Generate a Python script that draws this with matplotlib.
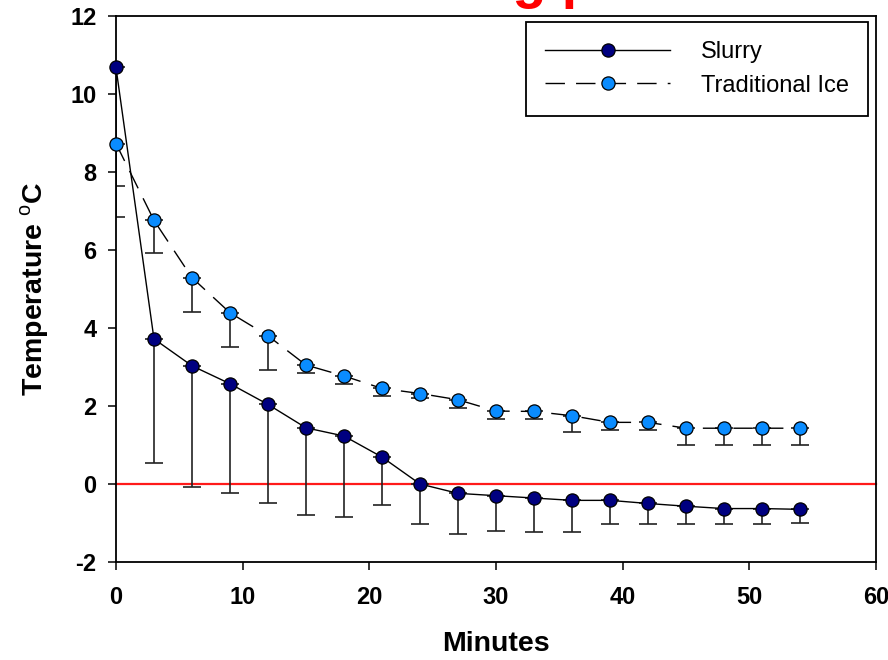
"""Slurry vs traditional ice cooling curves with lower error bars."""

import matplotlib

matplotlib.use("Agg")

import matplotlib.pyplot as plt

plt.rcParams["font.family"] = ["Liberation Sans", "DejaVu Sans"]
plt.rcParams["mathtext.fontset"] = "custom"
plt.rcParams["mathtext.bf"] = "Liberation Sans:bold"
plt.rcParams["mathtext.rm"] = "Liberation Sans"
plt.rcParams["axes.unicode_minus"] = False

minutes = [0, 3, 6, 9, 12, 15, 18, 21, 24, 27, 30, 33, 36, 39, 42, 45, 48, 51, 54]

slurry = [10.68, 3.72, 3.03, 2.57, 2.04, 1.44, 1.23, 0.69, 0.0, -0.24, -0.3, -0.36,
          -0.42, -0.42, -0.5, -0.57, -0.63, -0.63, -0.65]
slurry_low = [7.65, 0.53, -0.08, -0.22, -0.5, -0.79, -0.85, -0.55, -1.03, -1.27, -1.21,
              -1.22, -1.22, -1.02, -1.02, -1.03, -1.03, -1.03, -1.0]

ice = [8.73, 6.76, 5.29, 4.39, 3.8, 3.05, 2.77, 2.45, 2.32, 2.16, 1.87, 1.86,
       1.75, 1.58, 1.58, 1.43, 1.43, 1.43, 1.43]
ice_low = [6.85, 5.92, 4.42, 3.51, 2.93, 2.84, 2.56, 2.26, 2.2, 1.96, 1.67, 1.67,
           1.34, 1.38, 1.38, 1.0, 1.0, 1.0, 1.0]

series_names = ["Slurry", "Traditional Ice"]
title = "Cooling profile"

SLURRY_COLOR = "#000080"
ICE_COLOR = "#0a8cff"


def lower_err(values, lows):
    return [[v - lo for v, lo in zip(values, lows)], [0] * len(values)]


fig = plt.figure(figsize=(8.88, 6.6), dpi=100)
ax = fig.add_axes([0.1306, 0.1485, 0.8559, 0.8273])

ax.axhline(0, color="#ff1a1a", lw=1.6, zorder=1, clip_on=False)

ax.errorbar(minutes, ice, yerr=lower_err(ice, ice_low), fmt="none",
            ecolor="#222222", elinewidth=1.2, capsize=6.5, capthick=1.2, zorder=2)
ax.errorbar(minutes, slurry, yerr=lower_err(slurry, slurry_low), fmt="none",
            ecolor="#222222", elinewidth=1.2, capsize=6.5, capthick=1.2, zorder=2)

ax.plot(minutes, slurry, color="black", lw=1.0, marker="o", markersize=9.5,
        markerfacecolor=SLURRY_COLOR, markeredgecolor="black", markeredgewidth=0.9,
        label=series_names[0], zorder=4, clip_on=False)
ax.plot(minutes, ice, color="black", lw=1.0, dashes=(14, 8), marker="o", markersize=9.5,
        markerfacecolor=ICE_COLOR, markeredgecolor="black", markeredgewidth=0.9,
        label=series_names[1], zorder=3, clip_on=False)

ax.set_xlim(0, 60)
ax.set_ylim(-2, 12)
ax.set_xticks(range(0, 61, 10))
ax.set_yticks(range(-2, 13, 2))

for side in ["left", "right", "top", "bottom"]:
    ax.spines[side].set_linewidth(1.3)
ax.tick_params(direction="out", length=6, width=1.1)
ax.tick_params(axis="x", pad=11, labelsize=17)
ax.tick_params(axis="y", pad=8, labelsize=17)
for lab in ax.get_xticklabels() + ax.get_yticklabels():
    lab.set_fontweight("bold")

ax.set_xlabel("Minutes", fontsize=20.5, fontweight="bold", labelpad=16)
ax.set_ylabel(r"Temperature $^{\mathrm{o}}$C", fontsize=20.5, fontweight="bold",
              labelpad=14)

leg = ax.legend(loc="upper right", bbox_to_anchor=(0.9895, 0.989), borderaxespad=0,
                fontsize=17, frameon=True, fancybox=False, edgecolor="black",
                handlelength=5.3, handletextpad=1.3, borderpad=0.8, labelspacing=0.5)
leg.get_frame().set_linewidth(1.3)
leg.get_frame().set_alpha(1)

fig.text(0.383, 1.005, title, color="#ff0000", fontsize=40, fontweight="bold",
         ha="left", va="baseline")

fig.savefig("out.png", dpi=100)
